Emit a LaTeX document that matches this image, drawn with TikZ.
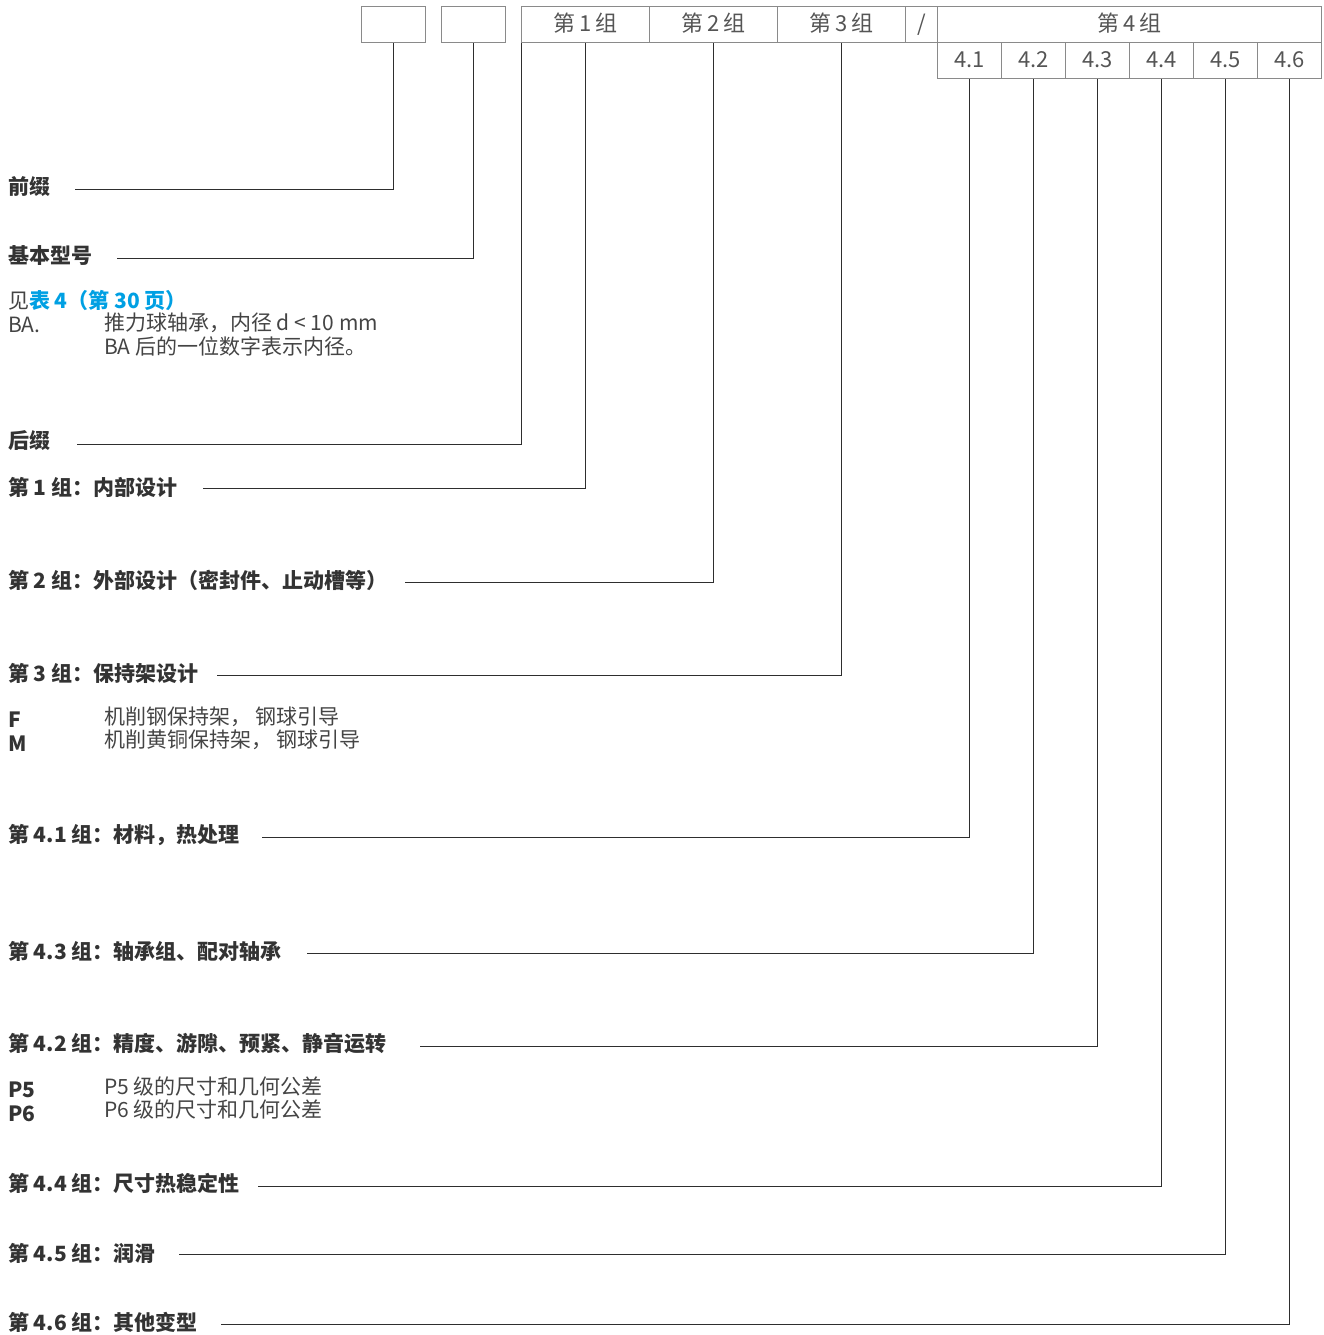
\documentclass[tikz,border=0pt]{standalone}
\usepackage{fontspec}
\setmainfont{Noto Sans CJK SC}
\definecolor{linec}{HTML}{2E2E2E}
\definecolor{boxc}{HTML}{8A8A8A}
\definecolor{cellt}{HTML}{555555}
\definecolor{labc}{HTML}{333333}
\definecolor{txtc}{HTML}{444444}
\definecolor{linkc}{HTML}{00A0E3}
\begin{document}
\begin{tikzpicture}[x=1bp,y=-1bp,
  conn/.style={draw=linec, line width=1bp},
  cell/.style={draw=boxc, line width=1.1bp, minimum height=36bp, inner sep=0pt, text=cellt,
    text height=17bp, text depth=4bp,
    font=\fontsize{22bp}{26bp}\selectfont, anchor=north west},
  lab/.style={anchor=west, inner sep=0pt, text=labc, font=\fontsize{21bp}{24bp}\selectfont\bfseries},
  txt/.style={anchor=west, inner sep=0pt, text=txtc, font=\fontsize{21bp}{24bp}\selectfont},
  code/.style={anchor=west, inner sep=0pt, text=labc, font=\fontsize{21bp}{24bp}\selectfont\bfseries},
]
\useasboundingbox (0,0) rectangle (1324,1335);

% top boxes
\node[cell, minimum width=64bp] (pre) at (361,6) {};
\node[cell, minimum width=64bp] (base) at (441,6) {};
\node[cell, minimum width=128bp] (g1) at (521,6) {第\,1\,组};
\node[cell, minimum width=128bp] (g2) at (649,6) {第\,2\,组};
\node[cell, minimum width=128bp] (g3) at (777,6) {第\,3\,组};
\node[cell, minimum width=32bp] (sl) at (905,6) {/};
\node[cell, minimum width=384bp] (g4) at (937,6) {第\,4\,组};
\node[cell, minimum width=64bp] (s41) at (937,42) {4.1};
\node[cell, minimum width=64bp] (s42) at (1001,42) {4.2};
\node[cell, minimum width=64bp] (s43) at (1065,42) {4.3};
\node[cell, minimum width=64bp] (s44) at (1129,42) {4.4};
\node[cell, minimum width=64bp] (s45) at (1193,42) {4.5};
\node[cell, minimum width=64bp] (s46) at (1257,42) {4.6};

% labels
\node[lab] (lpre) at (8,187) {前缀};
\node[lab] (lbase) at (8,256) {基本型号};
\node[txt] (see) at (8,300) {见\textcolor{linkc}{\bfseries 表 4（第 30 页）}};
\node[txt] (ba) at (8,325) {BA.};
\node[txt] (bat1) at (104,323) {推力球轴承，内径 d < 10 mm};
\node[txt] (bat2) at (104,346) {BA 后的一位数字表示内径。};
\node[lab] (lsuf) at (8,441) {后缀};
\node[lab] (l1) at (8,487) {第 1 组：内部设计};
\node[lab] (l2) at (8,580) {第 2 组：外部设计（密封件、止动槽等）};
\node[lab] (l3) at (8,673) {第 3 组：保持架设计};
\node[code] (cf) at (8,720) {F};
\node[txt] (tf) at (104,717) {机削钢保持架， 钢球引导};
\node[code] (cm) at (8,744) {M};
\node[txt] (tm) at (104,740) {机削黄铜保持架， 钢球引导};
\node[lab] (l41) at (8,835) {第 4.1 组：材料，热处理};
\node[lab] (l43) at (8,951) {第 4.3 组：轴承组、配对轴承};
\node[lab] (l42) at (8,1044) {第 4.2 组：精度、游隙、预紧、静音运转};
\node[code] (cp5) at (8,1090) {P5};
\node[txt] (tp5) at (104,1087) {P5 级的尺寸和几何公差};
\node[code] (cp6) at (8,1114) {P6};
\node[txt] (tp6) at (104,1110) {P6 级的尺寸和几何公差};
\node[lab] (l44) at (8,1183) {第 4.4 组：尺寸热稳定性};
\node[lab] (l45) at (8,1253) {第 4.5 组：润滑};
\node[lab] (l46) at (8,1322) {第 4.6 组：其他变型};

% connectors
\draw[conn] (pre.south) |- ([xshift=25bp,yshift=-3bp]lpre.east);
\draw[conn] (base.south) |- ([xshift=25bp,yshift=-3bp]lbase.east);
\draw[conn] (g1.south west) |- ([xshift=27bp,yshift=-3bp]lsuf.east);
\draw[conn] (g1.south) |- ([xshift=25bp,yshift=-1bp]l1.east);
\draw[conn] (g2.south) |- ([xshift=17bp,yshift=-2bp]l2.east);
\draw[conn] (g3.south) |- ([xshift=18bp,yshift=-2bp]l3.east);
\draw[conn] (s41.south) |- ([xshift=22bp,yshift=-2bp]l41.east);
\draw[conn] (s42.south) |- ([xshift=25bp,yshift=-2bp]l43.east);
\draw[conn] (s43.south) |- ([xshift=33bp,yshift=-2bp]l42.east);
\draw[conn] (s44.south) |- ([xshift=18bp,yshift=-3bp]l44.east);
\draw[conn] (s45.south) |- ([xshift=23bp,yshift=-1bp]l45.east);
\draw[conn] (s46.south) |- ([xshift=23bp,yshift=-2bp]l46.east);
\end{tikzpicture}
\end{document}
